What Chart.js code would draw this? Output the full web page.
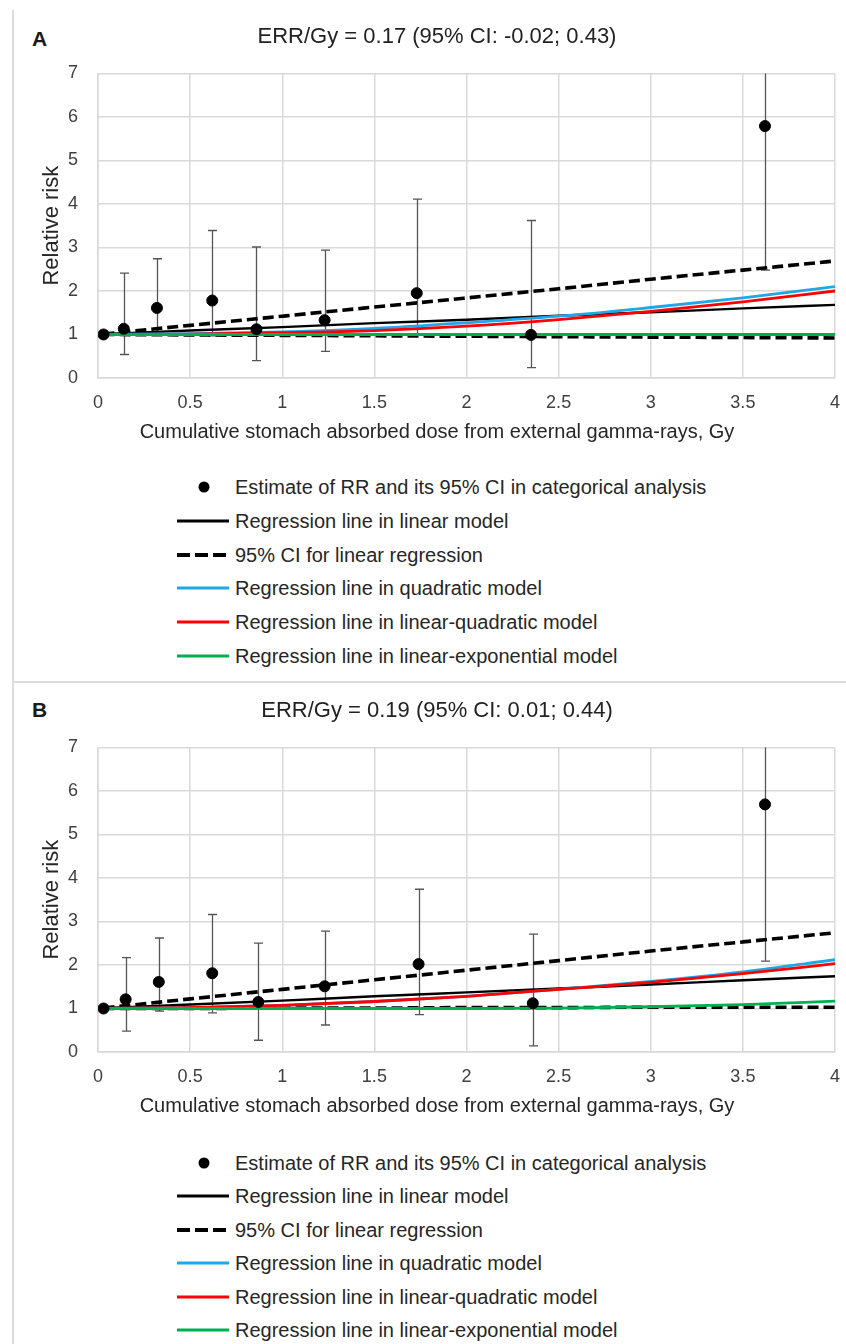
<!DOCTYPE html>
<html>
<head>
<meta charset="utf-8">
<script src="https://cdn.jsdelivr.net/npm/chart.js@4.4.1/dist/chart.umd.min.js"></script>
<style>
body { margin: 0; background: #fff; font-family: "Liberation Sans", Arial, sans-serif; }
#page { position: relative; width: 846px; height: 1344px; overflow: hidden; background: #fff; }
.frameL { position: absolute; left: 12px; top: 10px; width: 2px; height: 1334px; background: #dcdcdc; }
.divider { position: absolute; left: 12px; top: 681px; width: 834px; height: 2px; background: #dcdcdc; }
canvas { position: absolute; left: 0; }
.tag { position: absolute; left: 32px; font-weight: bold; font-size: 21px; line-height: 24px; color: #1a1a1a; }
.row { position: absolute; left: 0; width: 846px; height: 34px; }
.row svg { position: absolute; left: 177px; top: 0; }
.row span { position: absolute; left: 235px; top: 5px; font-size: 20px; line-height: 24px; color: #262626; white-space: nowrap; }
</style>
</head>
<body>
<div id="page">
  <div class="frameL"></div>
  <div class="divider"></div>
  <div class="tag" style="top:27px">A</div>
  <div class="tag" style="top:698px">B</div>
  <canvas id="chartA" width="846" height="450" style="top:0px"></canvas>
  <canvas id="chartB" width="846" height="450" style="top:674px"></canvas>
  <div id="legendA"></div>
  <div id="legendB"></div>
</div>
<script>
// categorical estimates (dose group mean, RR, 95% CI)
const doseA = [0.03, 0.14, 0.32, 0.62, 0.86, 1.23, 1.73, 2.35, 3.62];
const rrA   = [1.00, 1.13, 1.61, 1.78, 1.12, 1.33, 1.95, 0.99, 5.79];
const loA   = [null, 0.54, 1.00, 0.97, 0.40, 0.61, 1.02, 0.24, 2.48];
const hiA   = [null, 2.41, 2.74, 3.39, 3.01, 2.94, 4.11, 3.62, 9.00];

const doseB = [0.03, 0.15, 0.33, 0.62, 0.87, 1.23, 1.74, 2.36, 3.62];
const rrB   = [1.00, 1.21, 1.61, 1.81, 1.15, 1.51, 2.02, 1.12, 5.69];
const loB   = [null, 0.48, 0.94, 0.90, 0.27, 0.62, 0.86, 0.14, 2.09];
const hiB   = [null, 2.17, 2.62, 3.16, 2.50, 2.78, 3.74, 2.71, 9.00];

const lineDose = [0.03, 0.5, 1, 1.5, 2, 2.5, 3, 3.5, 4];

const linA   = [1.01, 1.09, 1.17, 1.26, 1.34, 1.43, 1.51, 1.60, 1.68];
const ciHiA  = [1.01, 1.21, 1.42, 1.63, 1.84, 2.05, 2.27, 2.48, 2.69];
const ciLoA  = [1.00, 0.99, 0.98, 0.97, 0.96, 0.95, 0.94, 0.93, 0.92];
const quadA  = [1.00, 1.02, 1.06, 1.14, 1.27, 1.42, 1.62, 1.84, 2.10];
const lqA    = [1.00, 1.01, 1.04, 1.09, 1.19, 1.34, 1.53, 1.75, 2.00];
const expA   = [1.00, 1.00, 1.00, 1.00, 1.00, 1.00, 1.00, 1.00, 1.00];

const linB   = [1.01, 1.09, 1.18, 1.28, 1.37, 1.46, 1.55, 1.65, 1.74];
const ciHiB  = [1.01, 1.22, 1.44, 1.66, 1.88, 2.10, 2.32, 2.53, 2.74];
const ciLoB  = [1.00, 1.00, 1.01, 1.01, 1.02, 1.02, 1.03, 1.03, 1.03];
const quadB  = [1.00, 1.02, 1.07, 1.16, 1.28, 1.44, 1.62, 1.84, 2.12];
const lqB    = [1.00, 1.02, 1.07, 1.16, 1.28, 1.44, 1.60, 1.80, 2.03];
const expB   = [1.00, 1.00, 1.00, 1.00, 1.00, 1.01, 1.04, 1.09, 1.17];

const titleA = 'ERR/Gy = 0.17 (95% CI: -0.02; 0.43)';
const titleB = 'ERR/Gy = 0.19 (95% CI: 0.01; 0.44)';
const xTitle = 'Cumulative stomach absorbed dose from external gamma-rays, Gy';
const yTitle = 'Relative risk';

const legendLabels = [
    'Estimate of RR and its 95% CI in categorical analysis',
    'Regression line in linear model',
    '95% CI for linear regression',
    'Regression line in quadratic model',
    'Regression line in linear-quadratic model',
    'Regression line in linear-exponential model'
];

const BLUE = '#1fa7e6';
const RED = '#ff0000';
const GREEN = '#00b050';
const GRID = '#d9d9d9';
const FONT = '"Liberation Sans", Arial, sans-serif';

function xy(xs, ys) {
    return xs.map((x, i) => ({x: x, y: ys[i]}));
}

function errorBarPlugin(dose, lo, hi) {
    return {
        id: 'errorBars',
        beforeDatasetsDraw(chart) {
            const {ctx, chartArea, scales} = chart;
            ctx.save();
            ctx.beginPath();
            ctx.rect(chartArea.left, chartArea.top, chartArea.width, chartArea.height);
            ctx.clip();
            ctx.strokeStyle = '#555555';
            ctx.lineWidth = 1.3;
            dose.forEach((d, i) => {
                if (lo[i] == null) return;
                const px = Math.round(scales.x.getPixelForValue(d)) + 0.5;
                const yl = scales.y.getPixelForValue(lo[i]);
                const yh = scales.y.getPixelForValue(hi[i]);
                ctx.beginPath();
                ctx.moveTo(px, yl); ctx.lineTo(px, yh);
                ctx.moveTo(px - 4.5, yl); ctx.lineTo(px + 4.5, yl);
                ctx.moveTo(px - 4.5, yh); ctx.lineTo(px + 4.5, yh);
                ctx.stroke();
            });
            ctx.restore();
        }
    };
}

function curve(label, data, color, width, dash) {
    return {
        type: 'line',
        label: label,
        data: xy(lineDose, data),
        borderColor: color,
        borderWidth: width,
        borderDash: dash || [],
        pointRadius: 0,
        fill: false,
        cubicInterpolationMode: 'monotone'
    };
}

function makePanel(id, title, dose, rr, lo, hi, lin, ciHi, ciLo, quad, lq, ex) {
    const datasets = [
        {
            type: 'scatter',
            label: legendLabels[0],
            data: xy(dose, rr),
            backgroundColor: '#000',
            borderColor: '#000',
            pointRadius: 5.5,
            showLine: false
        },
        curve(legendLabels[5], ex, GREEN, 2.8),
        curve(legendLabels[4], lq, RED, 2.8),
        curve(legendLabels[3], quad, BLUE, 2.8),
        curve(legendLabels[1], lin, '#000', 2.4),
        curve(legendLabels[2], ciHi, '#000', 3.6, [11, 5]),
        curve(legendLabels[2], ciLo, '#000', 3.6, [11, 5])
    ];

    return new Chart(document.getElementById(id), {
        data: {datasets: datasets},
        plugins: [errorBarPlugin(dose, lo, hi)],
        options: {
            responsive: false,
            animation: false,
            devicePixelRatio: 1,
            layout: {padding: {left: 39, right: 11, top: 0, bottom: 0}},
            plugins: {
                legend: {display: false},
                tooltip: {enabled: false},
                title: {
                    display: true,
                    text: title,
                    color: '#222',
                    font: {family: FONT, size: 22, weight: 'normal'},
                    padding: {top: 24, bottom: 23}
                },
                // x axis title, centred on the whole figure like the original
                subtitle: {
                    display: true,
                    position: 'bottom',
                    text: xTitle,
                    color: '#262626',
                    font: {family: FONT, size: 20, weight: 'normal'},
                    padding: {top: 0, bottom: 6}
                }
            },
            scales: {
                x: {
                    type: 'linear',
                    min: 0,
                    max: 4,
                    afterFit: (s) => {
                        s.height = 42;
                        s.paddingLeft = 0;
                        s.paddingRight = 0;
                    },
                    ticks: {
                        stepSize: 0.5,
                        padding: 14,
                        color: '#404040',
                        font: {family: FONT, size: 18},
                        callback: (v) => String(Math.round(v * 10) / 10)
                    },
                    grid: {color: GRID, lineWidth: 1.5, drawTicks: false},
                    border: {color: GRID, width: 1.5}
                },
                y: {
                    type: 'linear',
                    min: 0,
                    max: 7,
                    afterFit: (s) => { s.width = 59; },
                    ticks: {
                        stepSize: 1,
                        padding: 20,
                        color: '#404040',
                        font: {family: FONT, size: 18}
                    },
                    grid: {color: GRID, lineWidth: 1.5, drawTicks: false},
                    border: {color: GRID, width: 1.5},
                    title: {
                        display: true,
                        text: yTitle,
                        color: '#262626',
                        font: {family: FONT, size: 22},
                        padding: {top: 0, bottom: 0}
                    }
                }
            }
        }
    });
}

function symbolSvg(i) {
    const ns = 'http://www.w3.org/2000/svg';
    const svg = document.createElementNS(ns, 'svg');
    svg.setAttribute('width', 52);
    svg.setAttribute('height', 34);
    let el;
    if (i === 0) {
        el = document.createElementNS(ns, 'circle');
        el.setAttribute('cx', 27);
        el.setAttribute('cy', 17);
        el.setAttribute('r', 5.5);
        el.setAttribute('fill', '#000');
    } else {
        const colors = [null, '#000', '#000', BLUE, RED, GREEN];
        el = document.createElementNS(ns, 'line');
        el.setAttribute('x1', 0);
        el.setAttribute('x2', 52);
        el.setAttribute('y1', 17);
        el.setAttribute('y2', 17);
        el.setAttribute('stroke', colors[i]);
        el.setAttribute('stroke-width', i === 2 ? 4 : 2.8);
        if (i === 2) el.setAttribute('stroke-dasharray', '13 5');
    }
    svg.appendChild(el);
    return svg;
}

function makeLegend(id, firstRow, rowGap) {
    const box = document.getElementById(id);
    legendLabels.forEach((text, i) => {
        const row = document.createElement('div');
        row.className = 'row';
        row.style.top = (firstRow + i * rowGap - 17) + 'px';
        row.appendChild(symbolSvg(i));
        const span = document.createElement('span');
        span.textContent = text;
        row.appendChild(span);
        box.appendChild(row);
    });
}

makePanel('chartA', titleA, doseA, rrA, loA, hiA, linA, ciHiA, ciLoA, quadA, lqA, expA);
makePanel('chartB', titleB, doseB, rrB, loB, hiB, linB, ciHiB, ciLoB, quadB, lqB, expB);
makeLegend('legendA', 487, 33.8);
makeLegend('legendB', 1163, 33.4);
</script>
</body>
</html>
